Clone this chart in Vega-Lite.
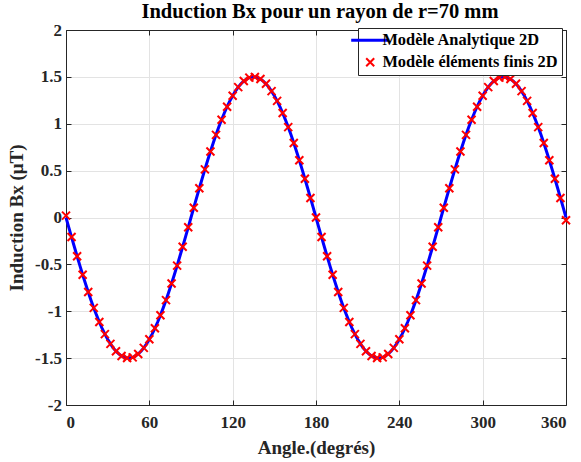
{
"$schema": "https://vega.github.io/schema/vega-lite/v6.json",
"width": 500, "height": 375,
"autosize": {"type": "none"},
"padding": {"left": 66, "top": 30, "right": 15, "bottom": 57},
"background": "white",
"title": {"text": "Induction Bx pour un rayon de r=70 mm", "font": "Liberation Serif", "fontSize": 20.5, "fontWeight": "bold", "color": "black", "baseline": "alphabetic", "offset": 1, "anchor": "middle", "frame": "group", "dx": 4, "dy": 18},
"config": {"view": {"stroke": null}},
"datasets": {
"line": [
{"angle":0,"bx":0},{"angle":2,"bx":-0.1046},{"angle":4,"bx":-0.2088},{"angle":6,"bx":-0.3119},{"angle":8,"bx":-0.4135},{"angle":10,"bx":-0.513},{"angle":12,"bx":-0.6101},{"angle":14,"bx":-0.7042},{"angle":16,"bx":-0.7949},{"angle":18,"bx":-0.8817},{"angle":20,"bx":-0.9642},{"angle":22,"bx":-1.042},{"angle":24,"bx":-1.1147},{"angle":26,"bx":-1.182},{"angle":28,"bx":-1.2436},{"angle":30,"bx":-1.299},{"angle":32,"bx":-1.3482},{"angle":34,"bx":-1.3908},{"angle":36,"bx":-1.4266},{"angle":38,"bx":-1.4554},{"angle":40,"bx":-1.4772},{"angle":42,"bx":-1.4918},{"angle":44,"bx":-1.4991},{"angle":45,"bx":-1.5},{"angle":46,"bx":-1.4991},{"angle":48,"bx":-1.4918},{"angle":50,"bx":-1.4772},{"angle":52,"bx":-1.4554},{"angle":54,"bx":-1.4266},{"angle":56,"bx":-1.3908},{"angle":58,"bx":-1.3482},{"angle":60,"bx":-1.299},{"angle":62,"bx":-1.2436},{"angle":64,"bx":-1.182},{"angle":66,"bx":-1.1147},{"angle":68,"bx":-1.042},{"angle":70,"bx":-0.9642},{"angle":72,"bx":-0.8817},{"angle":74,"bx":-0.7949},{"angle":76,"bx":-0.7042},{"angle":78,"bx":-0.6101},{"angle":80,"bx":-0.513},{"angle":82,"bx":-0.4135},{"angle":84,"bx":-0.3119},{"angle":86,"bx":-0.2088},{"angle":88,"bx":-0.1046},
{"angle":90,"bx":0},{"angle":92,"bx":0.1046},{"angle":94,"bx":0.2088},{"angle":96,"bx":0.3119},{"angle":98,"bx":0.4135},{"angle":100,"bx":0.513},{"angle":102,"bx":0.6101},{"angle":104,"bx":0.7042},{"angle":106,"bx":0.7949},{"angle":108,"bx":0.8817},{"angle":110,"bx":0.9642},{"angle":112,"bx":1.042},{"angle":114,"bx":1.1147},{"angle":116,"bx":1.182},{"angle":118,"bx":1.2436},{"angle":120,"bx":1.299},{"angle":122,"bx":1.3482},{"angle":124,"bx":1.3908},{"angle":126,"bx":1.4266},{"angle":128,"bx":1.4554},{"angle":130,"bx":1.4772},{"angle":132,"bx":1.4918},{"angle":134,"bx":1.4991},{"angle":135,"bx":1.5},{"angle":136,"bx":1.4991},{"angle":138,"bx":1.4918},{"angle":140,"bx":1.4772},{"angle":142,"bx":1.4554},{"angle":144,"bx":1.4266},{"angle":146,"bx":1.3908},{"angle":148,"bx":1.3482},{"angle":150,"bx":1.299},{"angle":152,"bx":1.2436},{"angle":154,"bx":1.182},{"angle":156,"bx":1.1147},{"angle":158,"bx":1.042},{"angle":160,"bx":0.9642},{"angle":162,"bx":0.8817},{"angle":164,"bx":0.7949},{"angle":166,"bx":0.7042},{"angle":168,"bx":0.6101},{"angle":170,"bx":0.513},{"angle":172,"bx":0.4135},{"angle":174,"bx":0.3119},{"angle":176,"bx":0.2088},{"angle":178,"bx":0.1046},
{"angle":180,"bx":0},{"angle":182,"bx":-0.1046},{"angle":184,"bx":-0.2088},{"angle":186,"bx":-0.3119},{"angle":188,"bx":-0.4135},{"angle":190,"bx":-0.513},{"angle":192,"bx":-0.6101},{"angle":194,"bx":-0.7042},{"angle":196,"bx":-0.7949},{"angle":198,"bx":-0.8817},{"angle":200,"bx":-0.9642},{"angle":202,"bx":-1.042},{"angle":204,"bx":-1.1147},{"angle":206,"bx":-1.182},{"angle":208,"bx":-1.2436},{"angle":210,"bx":-1.299},{"angle":212,"bx":-1.3482},{"angle":214,"bx":-1.3908},{"angle":216,"bx":-1.4266},{"angle":218,"bx":-1.4554},{"angle":220,"bx":-1.4772},{"angle":222,"bx":-1.4918},{"angle":224,"bx":-1.4991},{"angle":225,"bx":-1.5},{"angle":226,"bx":-1.4991},{"angle":228,"bx":-1.4918},{"angle":230,"bx":-1.4772},{"angle":232,"bx":-1.4554},{"angle":234,"bx":-1.4266},{"angle":236,"bx":-1.3908},{"angle":238,"bx":-1.3482},{"angle":240,"bx":-1.299},{"angle":242,"bx":-1.2436},{"angle":244,"bx":-1.182},{"angle":246,"bx":-1.1147},{"angle":248,"bx":-1.042},{"angle":250,"bx":-0.9642},{"angle":252,"bx":-0.8817},{"angle":254,"bx":-0.7949},{"angle":256,"bx":-0.7042},{"angle":258,"bx":-0.6101},{"angle":260,"bx":-0.513},{"angle":262,"bx":-0.4135},{"angle":264,"bx":-0.3119},{"angle":266,"bx":-0.2088},{"angle":268,"bx":-0.1046},
{"angle":270,"bx":0},{"angle":272,"bx":0.1046},{"angle":274,"bx":0.2088},{"angle":276,"bx":0.3119},{"angle":278,"bx":0.4135},{"angle":280,"bx":0.513},{"angle":282,"bx":0.6101},{"angle":284,"bx":0.7042},{"angle":286,"bx":0.7949},{"angle":288,"bx":0.8817},{"angle":290,"bx":0.9642},{"angle":292,"bx":1.042},{"angle":294,"bx":1.1147},{"angle":296,"bx":1.182},{"angle":298,"bx":1.2436},{"angle":300,"bx":1.299},{"angle":302,"bx":1.3482},{"angle":304,"bx":1.3908},{"angle":306,"bx":1.4266},{"angle":308,"bx":1.4554},{"angle":310,"bx":1.4772},{"angle":312,"bx":1.4918},{"angle":314,"bx":1.4991},{"angle":315,"bx":1.5},{"angle":316,"bx":1.4991},{"angle":318,"bx":1.4918},{"angle":320,"bx":1.4772},{"angle":322,"bx":1.4554},{"angle":324,"bx":1.4266},{"angle":326,"bx":1.3908},{"angle":328,"bx":1.3482},{"angle":330,"bx":1.299},{"angle":332,"bx":1.2436},{"angle":334,"bx":1.182},{"angle":336,"bx":1.1147},{"angle":338,"bx":1.042},{"angle":340,"bx":0.9642},{"angle":342,"bx":0.8817},{"angle":344,"bx":0.7949},{"angle":346,"bx":0.7042},{"angle":348,"bx":0.6101},{"angle":350,"bx":0.513},{"angle":352,"bx":0.4135},{"angle":354,"bx":0.3119},{"angle":356,"bx":0.2088},{"angle":358,"bx":0.1046},{"angle":360,"bx":0}
],
"fem": [
{"angle":0,"bx":0.02},{"angle":4,"bx":-0.2088},{"angle":8,"bx":-0.4135},{"angle":12,"bx":-0.6101},{"angle":16,"bx":-0.7949},{"angle":20,"bx":-0.9642},{"angle":24,"bx":-1.1147},{"angle":28,"bx":-1.2436},{"angle":32,"bx":-1.3482},{"angle":36,"bx":-1.4266},{"angle":40,"bx":-1.4772},{"angle":44,"bx":-1.4991},{"angle":48,"bx":-1.4918},{"angle":52,"bx":-1.4554},{"angle":56,"bx":-1.3908},{"angle":60,"bx":-1.299},{"angle":64,"bx":-1.182},{"angle":68,"bx":-1.042},{"angle":72,"bx":-0.8817},{"angle":76,"bx":-0.7042},{"angle":80,"bx":-0.513},{"angle":84,"bx":-0.3119},{"angle":88,"bx":-0.1046},{"angle":92,"bx":0.1046},{"angle":96,"bx":0.3119},{"angle":100,"bx":0.513},{"angle":104,"bx":0.7042},{"angle":108,"bx":0.8817},{"angle":112,"bx":1.042},{"angle":116,"bx":1.182},{"angle":120,"bx":1.299},{"angle":124,"bx":1.3908},{"angle":128,"bx":1.4554},{"angle":132,"bx":1.4918},{"angle":136,"bx":1.4991},{"angle":140,"bx":1.4772},{"angle":144,"bx":1.4266},{"angle":148,"bx":1.3482},{"angle":152,"bx":1.2436},{"angle":156,"bx":1.1147},{"angle":160,"bx":0.9642},{"angle":164,"bx":0.7949},{"angle":168,"bx":0.6101},{"angle":172,"bx":0.4135},{"angle":176,"bx":0.2088},{"angle":180,"bx":0},
{"angle":184,"bx":-0.2088},{"angle":188,"bx":-0.4135},{"angle":192,"bx":-0.6101},{"angle":196,"bx":-0.7949},{"angle":200,"bx":-0.9642},{"angle":204,"bx":-1.1147},{"angle":208,"bx":-1.2436},{"angle":212,"bx":-1.3482},{"angle":216,"bx":-1.4266},{"angle":220,"bx":-1.4772},{"angle":224,"bx":-1.4991},{"angle":228,"bx":-1.4918},{"angle":232,"bx":-1.4554},{"angle":236,"bx":-1.3908},{"angle":240,"bx":-1.299},{"angle":244,"bx":-1.182},{"angle":248,"bx":-1.042},{"angle":252,"bx":-0.8817},{"angle":256,"bx":-0.7042},{"angle":260,"bx":-0.513},{"angle":264,"bx":-0.3119},{"angle":268,"bx":-0.1046},{"angle":272,"bx":0.1046},{"angle":276,"bx":0.3119},{"angle":280,"bx":0.513},{"angle":284,"bx":0.7042},{"angle":288,"bx":0.8817},{"angle":292,"bx":1.042},{"angle":296,"bx":1.182},{"angle":300,"bx":1.299},{"angle":304,"bx":1.3908},{"angle":308,"bx":1.4554},{"angle":312,"bx":1.4918},{"angle":316,"bx":1.4991},{"angle":320,"bx":1.4772},{"angle":324,"bx":1.4266},{"angle":328,"bx":1.3482},{"angle":332,"bx":1.2436},{"angle":336,"bx":1.1147},{"angle":340,"bx":0.9642},{"angle":344,"bx":0.7949},{"angle":348,"bx":0.6101},{"angle":352,"bx":0.4135},{"angle":356,"bx":0.2088},{"angle":360,"bx":-0.03}
]
},
"layer": [
{
"data": {"name": "line"},
"mark": {"type": "line", "strokeWidth": 3},
"encoding": {
"x": {"field": "angle", "type": "quantitative", "scale": {"domain": [0, 360], "nice": false, "zero": false},
"axis": {"orient": "bottom", "values": [0, 60, 120, 180, 240, 300, 360], "grid": true, "gridColor": "#e3e3e3", "gridWidth": 1, "tickSize": -5, "tickColor": "#262626", "domainColor": "#262626", "labelFont": "Liberation Serif", "labelFontSize": 17, "labelFontWeight": "bold", "labelColor": "#262626", "labelPadding": 14, "title": "Angle.(degrés)", "titleFont": "Liberation Serif", "titleFontSize": 19, "titleFontWeight": "bold", "titleColor": "#262626", "titlePadding": 8}},
"y": {"field": "bx", "type": "quantitative", "scale": {"domain": [-2, 2], "nice": false, "zero": false},
"axis": {"orient": "left", "values": [-2, -1.5, -1, -0.5, 0, 0.5, 1, 1.5, 2], "labelExpr": "toString(datum.value)", "grid": true, "gridColor": "#e3e3e3", "gridWidth": 1, "tickSize": -5, "tickColor": "#262626", "domainColor": "#262626", "labelFont": "Liberation Serif", "labelFontSize": 17, "labelFontWeight": "bold", "labelColor": "#262626", "labelPadding": 9.5, "title": "Induction Bx (μT)", "titleFont": "Liberation Serif", "titleFontSize": 19, "titleFontWeight": "bold", "titleColor": "#262626", "titlePadding": 8}},
"color": {"datum": "Modèle Analytique 2D", "type": "nominal",
"scale": {"domain": ["Modèle Analytique 2D", "Modèle éléments finis 2D"], "range": ["#0000ff", "#ff0000"]},
"legend": {"title": null, "orient": "none", "legendX": 292, "legendY": -2, "fillColor": "white", "strokeColor": "#262626", "padding": 4, "labelFont": "Liberation Serif", "labelFontSize": 16.4, "labelFontWeight": "bold", "labelColor": "black", "labelLimit": 400, "symbolType": "stroke", "symbolSize": 1444, "labelOffset": 4, "rowPadding": 5,
"encode": {"symbols": {"update": {
"shape": {"signal": "datum.index === 0 ? 'stroke' : 'M-1,-1L1,1M1,-1L-1,1'"},
"size": {"signal": "datum.index === 0 ? 1444 : 64"},
"stroke": {"signal": "datum.index === 0 ? '#0000ff' : '#ff0000'"},
"fill": {"value": "transparent"},
"strokeWidth": {"signal": "datum.index === 0 ? 3 : 2"}
}}}}}
}
},
{
"data": {"name": "fem"},
"mark": {"type": "point", "shape": "M-1,-1L1,1M1,-1L-1,1", "filled": false, "size": 64, "strokeWidth": 2, "opacity": 1},
"encoding": {
"x": {"field": "angle", "type": "quantitative", "axis": {"orient": "top", "values": [0, 60, 120, 180, 240, 300, 360], "labels": false, "grid": false, "tickSize": -5, "tickColor": "#262626", "domainColor": "#262626", "title": null}},
"y": {"field": "bx", "type": "quantitative", "axis": {"orient": "right", "values": [-2, -1.5, -1, -0.5, 0, 0.5, 1, 1.5, 2], "labels": false, "grid": false, "tickSize": -5, "tickColor": "#262626", "domainColor": "#262626", "title": null}},
"color": {"datum": "Modèle éléments finis 2D", "type": "nominal"}
}
}
]
}
